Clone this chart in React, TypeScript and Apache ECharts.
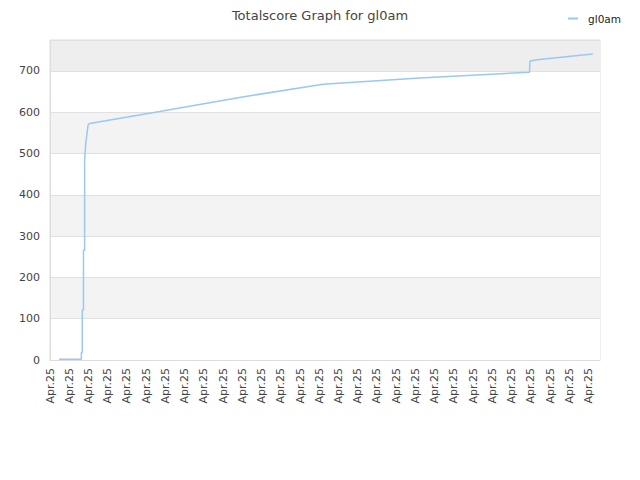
import { useEffect, useRef } from 'react';
import * as echarts from 'echarts';

// x in tick units (0 = first "Apr.25" label), y = total score
const xs = [0.47, 1.63, 1.63, 1.68, 1.68, 1.74, 1.74, 1.8, 1.8, 1.86, 1.98, 2.06, 5.7, 9.86, 14.2, 19.22, 24.93, 24.96, 25.32, 28.22];
const ys = [2, 2, 18, 18, 121, 121, 266, 266, 484, 525, 569, 573, 602, 636, 668, 683, 697, 724, 727, 741];
const tickLabels = Array.from({ length: 29 }, () => 'Apr.25');
const bandColors = ['#ffffff', '#f3f3f3', '#ffffff', '#f3f3f3', '#ffffff', '#f3f3f3', '#ffffff', '#eeeeee'];

export default function App() {
  const ref = useRef<HTMLDivElement | null>(null);

  useEffect(() => {
    if (!ref.current) return;
    document.body.style.margin = '0';
    const chart = echarts.init(ref.current, undefined, { renderer: 'svg' });
    const font = 'DejaVu Sans';

    chart.setOption({
      animation: false,
      textStyle: { fontFamily: font },
      title: {
        text: 'Totalscore Graph for gl0am',
        left: 'center',
        top: 4,
        textStyle: { fontSize: 13, fontWeight: 'normal', color: '#444', fontFamily: font },
      },
      legend: {
        right: 14,
        top: 8,
        icon: 'rect',
        itemWidth: 10,
        itemHeight: 2,
        itemGap: 8,
        textStyle: { fontSize: 10.5, color: '#222', fontFamily: font, padding: [0, 0, 0, 5] },
        data: ['gl0am'],
      },
      grid: {
        left: 50,
        right: 40,
        top: 40,
        bottom: 120,
        show: true,
        borderColor: '#ddd',
        borderWidth: 1,
      },
      xAxis: {
        type: 'value',
        min: 0,
        max: 28.6,
        interval: 1,
        axisLine: { show: true, lineStyle: { color: '#ddd' } },
        axisTick: { show: false },
        splitLine: { show: false },
        axisLabel: {
          rotate: 90,
          fontSize: 11,
          color: '#444',
          margin: 8,
          showMaxLabel: false,
          formatter: (v: number) => tickLabels[Math.round(v)] ?? '',
        },
      },
      yAxis: {
        type: 'value',
        min: 0,
        max: 775,
        interval: 100,
        axisLine: { show: true, lineStyle: { color: '#ddd' } },
        axisTick: { show: false },
        splitLine: { show: true, lineStyle: { color: '#e0e0e0' } },
        splitArea: { show: true, areaStyle: { color: bandColors } },
        axisLabel: { fontSize: 11, color: '#444', margin: 10, showMaxLabel: false },
      },
      series: [
        {
          name: 'gl0am',
          type: 'line',
          data: xs.map((x, i) => [x, ys[i]]),
          showSymbol: false,
          symbol: 'none',
          color: '#99c8f5',
          lineStyle: { color: '#99c8f5', width: 1.5 },
        },
      ],
    });

    return () => chart.dispose();
  }, []);

  return <div ref={ref} style={{ width: 640, height: 480 }} />;
}
